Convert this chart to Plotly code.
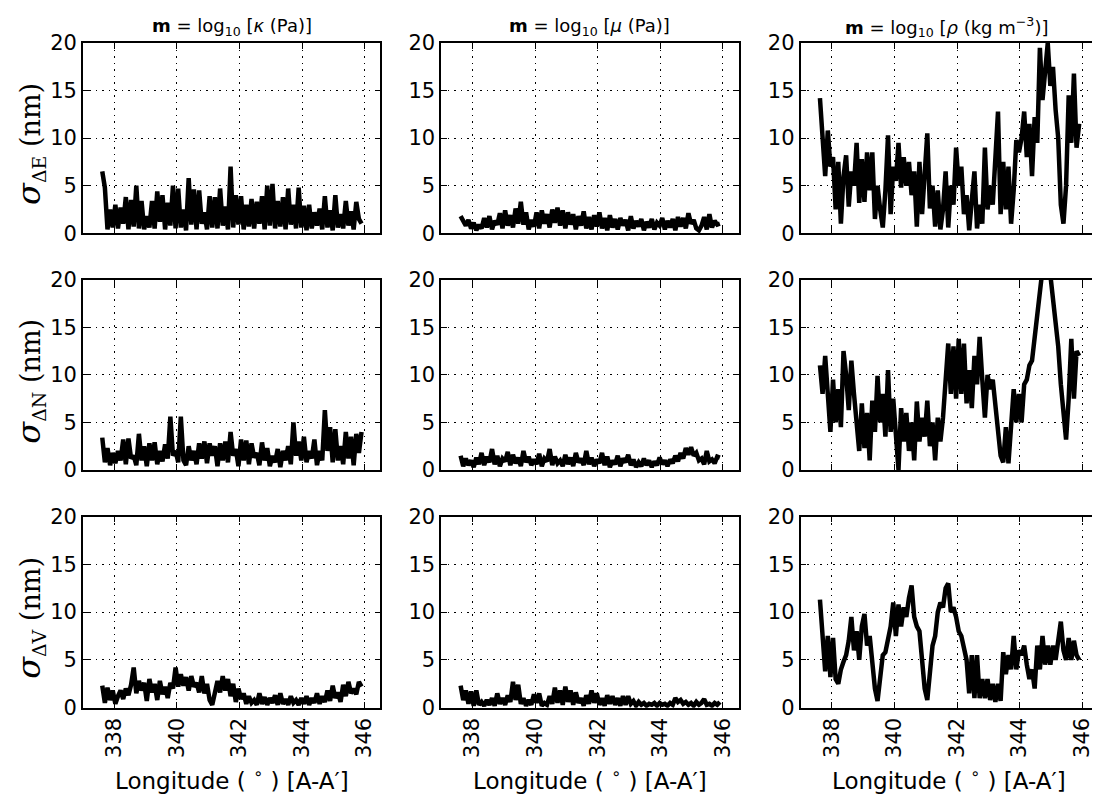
import numpy as np
import plotly.graph_objects as go

# ---------------- data ----------------
lon_start, lon_end, n_pts = 337.62, 345.90, 100
longitude = np.linspace(lon_start, lon_end, n_pts)

col_titles = ["<b>m</b> = log<sub>10</sub> [<i>κ</i> (Pa)]",
              "<b>m</b> = log<sub>10</sub> [<i>μ</i> (Pa)]",
              "<b>m</b> = log<sub>10</sub> [<i>ρ</i> (kg m<sup>−3</sup>)]"]
row_labels = ["ΔE", "ΔN", "ΔV"]
x_ticks = [338, 340, 342, 344, 346]
y_ticks = [0, 5, 10, 15, 20]

sigE_kappa = [6.5, 4.8, 0.4, 2.5, 0.6, 3.0, 0.5, 2.7, 1.0, 3.8,
              0.4, 3.5, 0.7, 5.0, 0.5, 3.4, 0.4, 1.8, 0.6, 3.4,
              0.5, 4.4, 1.2, 4.0, 0.4, 3.2, 0.8, 5.0, 0.5, 4.7,
              0.6, 2.5, 0.3, 5.8, 0.9, 4.6, 0.4, 4.5, 1.0, 2.2,
              0.4, 3.9, 0.6, 3.8, 0.5, 4.7, 0.8, 2.8, 0.4, 7.0,
              0.6, 4.0, 0.9, 3.9, 0.4, 3.0, 0.7, 3.6, 0.5, 3.3,
              1.0, 3.9, 0.4, 5.0, 0.8, 5.2, 0.5, 3.4, 0.7, 3.8,
              0.4, 4.7, 0.9, 3.0, 0.5, 4.8, 0.6, 2.9, 0.3, 3.0,
              0.5, 2.2, 0.8, 2.6, 0.4, 3.9, 0.6, 2.4, 0.3, 4.0,
              0.6, 2.0, 0.5, 3.4, 0.8, 2.3, 0.4, 3.3, 1.5, 1.0]
sigE_mu = [1.8, 1.2, 0.8, 1.4, 0.5, 1.1, 0.3, 0.9, 0.5, 1.6,
           0.6, 1.8, 0.4, 1.3, 0.9, 2.1, 0.5, 2.4, 0.8, 1.9,
           0.6, 2.6, 1.0, 3.3, 0.9, 2.2, 0.4, 1.4, 0.7, 2.2,
           0.5, 2.4, 1.0, 2.0, 0.6, 2.5, 1.1, 2.7, 0.8, 2.4,
           0.5, 2.2, 0.9, 2.0, 0.4, 1.8, 0.8, 2.3, 0.5, 1.7,
           0.4, 1.9, 0.7, 2.2, 0.5, 1.6, 0.3, 1.9, 0.6, 1.5,
           0.4, 1.6, 0.8, 1.4, 0.3, 1.8, 0.5, 1.3, 0.7, 1.5,
           0.3, 1.2, 0.6, 1.5, 0.4, 1.1, 0.8, 1.6, 0.4, 1.3,
           0.6, 1.5, 0.3, 1.7, 0.7, 1.6, 0.5, 2.1, 1.0, 1.4,
           0.5, 0.3, 0.8, 1.7, 0.4, 2.0, 0.6, 1.3, 0.9, 1.0]
sigE_rho = [14.2, 9.5, 6.0, 10.8, 7.0, 8.0, 2.5, 7.5, 1.0, 6.0,
            8.2, 2.8, 6.5, 5.0, 9.5, 3.2, 7.8, 3.3, 8.5, 4.5,
            8.5, 1.5, 5.0, 2.5, 0.6, 4.5, 10.3, 2.0, 7.0, 5.5,
            9.5, 4.8, 8.0, 5.0, 7.5, 4.0, 6.5, 0.7, 7.5, 2.0,
            6.0, 10.5, 2.6, 5.0, 0.7, 4.5, 0.4, 2.5, 6.5, 0.6,
            5.0, 3.0, 9.0, 5.0, 7.0, 2.0, 4.0, 0.3, 3.5, 6.5,
            0.5, 3.0, 1.0, 9.0, 2.5, 5.0, 3.0, 8.0, 12.8, 2.0,
            7.5, 2.5, 7.0, 1.0, 4.5, 9.8, 8.5, 10.0, 12.8, 8.0,
            11.5, 6.0, 12.2, 9.5, 19.5, 14.0, 17.0, 20.0, 15.5, 17.5,
            13.0, 10.0, 3.0, 1.0, 5.0, 14.5, 9.5, 16.8, 9.0, 11.5]

sigN_kappa = [3.4, 0.8, 2.3, 0.5, 1.8, 0.7, 2.0, 1.0, 3.2, 0.6,
              3.3, 1.2, 1.5, 0.5, 3.8, 1.0, 2.5, 0.4, 2.8, 1.0,
              2.9, 0.6, 2.0, 0.9, 2.7, 1.2, 5.6, 1.5, 2.0, 0.8,
              5.6, 1.0, 0.5, 2.5, 1.0, 2.0, 0.6, 2.8, 1.2, 3.0,
              0.7, 2.8, 1.5, 2.5, 0.4, 2.8, 1.0, 3.0, 0.8, 4.0,
              1.5, 2.2, 0.4, 3.2, 1.0, 3.1, 0.6, 2.8, 1.3, 1.8,
              0.5, 2.9, 1.0, 2.3, 0.4, 1.5, 0.8, 2.2, 0.3, 2.0,
              1.0, 2.5, 0.6, 5.0, 1.5, 3.0, 1.0, 3.5, 0.8, 2.0,
              1.2, 3.2, 0.5, 2.0, 1.0, 6.3, 2.0, 4.5, 0.8, 4.3,
              1.0, 2.5, 0.6, 4.0, 1.2, 3.5, 0.5, 3.8, 1.8, 4.0]
sigN_mu = [1.5, 0.4, 1.2, 0.5, 1.0, 0.3, 1.3, 0.6, 1.8, 0.5,
           1.4, 0.8, 2.2, 0.6, 1.5, 0.4, 1.2, 0.9, 1.9, 0.5,
           1.6, 0.7, 1.3, 0.4, 2.0, 0.8, 1.4, 0.5, 1.1, 0.6,
           1.7, 0.4, 1.2, 0.9, 2.2, 0.5, 1.4, 0.7, 1.0, 0.4,
           1.6, 0.6, 1.3, 0.4, 1.8, 0.8, 1.2, 0.5, 2.0, 0.6,
           1.3, 0.4, 1.1, 0.7, 1.8, 0.5, 1.4, 0.3, 1.0, 0.6,
           1.5, 0.4, 1.2, 0.8, 1.6, 0.5, 1.1, 0.3, 0.8, 0.4,
           1.2, 0.5, 1.0, 0.3, 0.9, 0.5, 1.3, 0.6, 1.0, 0.4,
           1.1, 0.7, 1.5, 0.9, 1.8, 1.2, 2.3, 1.6, 2.4, 1.5,
           1.8, 1.0, 1.2, 0.6, 2.0, 0.9, 1.1, 0.7, 1.4, 1.3]
sigN_rho = [11.0, 8.0, 12.0, 7.0, 4.0, 9.5, 5.0, 8.5, 4.5, 12.5,
            10.0, 6.3, 11.5, 8.0, 5.0, 2.0, 7.0, 2.3, 6.0, 1.0,
            7.3, 4.0, 9.9, 5.0, 8.0, 3.5, 10.5, 4.0, 7.5, 3.0,
            0.0, 6.5, 3.0, 6.0, 2.0, 5.0, 1.0, 7.2, 3.0, 5.5,
            3.5, 7.3, 2.5, 5.0, 1.0, 5.5, 3.0, 5.5, 9.0, 13.3,
            8.0, 13.0, 7.5, 13.8, 8.0, 13.3, 7.0, 10.5, 6.5, 12.0,
            9.0, 14.0, 9.5, 5.5, 10.0, 8.5, 9.5, 7.0, 5.0, 1.5,
            0.8, 4.5, 0.7, 5.5, 8.5, 5.0, 8.0, 5.0, 9.0, 9.5,
            11.0, 11.5, 14.0, 16.0, 19.0, 22.5, 23.5, 23.0, 20.5, 17.0,
            15.5, 13.0, 9.0, 6.0, 3.2, 7.5, 13.8, 7.5, 12.5, 12.0]

sigV_kappa = [2.3, 0.5, 2.1, 0.8, 1.8, 0.4, 1.2, 1.8, 0.9, 2.0,
              1.3, 2.4, 4.2, 1.5, 2.8, 1.8, 2.6, 0.7, 3.0, 1.6,
              2.5, 0.8, 2.8, 1.4, 2.2, 1.0, 2.6, 2.0, 4.2, 2.2,
              3.5, 2.3, 3.2, 1.8, 3.3, 2.2, 2.6, 1.6, 3.3, 1.5,
              2.5, 0.8, 0.3, 1.5, 2.8, 1.6, 3.3, 1.8, 3.0, 1.2,
              2.5, 0.6, 2.0, 0.9, 1.5, 0.4, 1.2, 0.5, 0.8, 0.3,
              1.5, 0.4, 1.1, 0.3, 1.0, 0.5, 1.3, 0.3, 1.5, 0.4,
              0.9, 0.3, 1.2, 0.5, 0.8, 0.3, 1.0, 0.4, 1.2, 0.3,
              1.0, 0.5, 1.5, 0.4, 1.2, 0.6, 1.8, 0.7, 2.3, 1.0,
              1.6, 0.6, 2.4, 1.2, 2.7, 1.5, 2.0, 1.4, 2.7, 2.2]
sigV_mu = [2.3, 0.8, 1.8, 0.4, 1.7, 0.2, 1.8, 0.3, 0.6, 0.2,
           0.8, 0.3, 1.0, 0.2, 1.5, 0.4, 1.0, 0.3, 1.3, 0.6,
           2.7, 0.8, 2.4, 0.4, 1.0, 0.2, 0.8, 0.3, 1.4, 0.5,
           1.5, 0.2, 0.5, 0.3, 1.2, 0.4, 2.1, 0.5, 1.8, 0.3,
           2.2, 0.6, 1.8, 0.3, 1.6, 0.5, 1.0, 0.2, 1.3, 0.4,
           1.8, 0.5, 1.5, 0.3, 1.0, 0.2, 1.3, 0.4, 1.2, 0.3,
           1.0, 0.2, 1.2, 0.3, 1.2, 0.4, 0.7, 0.2, 0.6, 0.3,
           0.5, 0.2, 0.4, 0.3, 0.5, 0.2, 0.5, 0.3, 0.4, 0.2,
           0.5, 0.3, 1.0, 0.6, 0.8, 0.4, 0.6, 0.3, 0.5, 0.2,
           0.6, 0.3, 0.5, 0.9, 0.3, 0.4, 0.2, 0.5, 0.3, 0.6]
sigV_rho = [11.3, 7.8, 3.8, 7.5, 3.2, 7.3, 3.0, 2.5, 4.0, 4.8,
            5.5, 7.0, 9.5, 6.0, 8.0, 5.0, 8.5, 9.8, 6.5, 7.5,
            5.0, 2.0, 0.7, 3.5, 5.5, 5.8, 7.0, 8.5, 11.0, 7.5,
            10.8, 8.5, 10.5, 9.5, 11.5, 12.8, 9.5, 8.5, 8.0, 5.0,
            2.0, 0.8, 3.5, 6.5, 7.5, 10.0, 11.0, 10.5, 12.5, 13.0,
            10.0, 10.5, 9.5, 8.0, 7.5, 6.0, 5.0, 1.5, 5.5, 1.0,
            5.5, 1.0, 3.0, 1.0, 3.0, 0.8, 2.5, 0.6, 2.5, 0.7,
            5.8, 3.5, 5.5, 4.0, 7.5, 4.0, 6.0, 5.5, 6.5, 4.5,
            3.0, 4.0, 2.0, 6.5, 4.0, 7.5, 4.5, 6.5, 4.5, 6.5,
            5.0, 7.0, 9.0, 6.0, 5.0, 7.3, 5.0, 7.0, 5.5, 5.0]

series = [[sigE_kappa, sigE_mu, sigE_rho],
          [sigN_kappa, sigN_mu, sigN_rho],
          [sigV_kappa, sigV_mu, sigV_rho]]

# ---------------- layout geometry ----------------
W, H = 1094, 807
col_px = [(83, 381), (442, 740), (802, 1094)]
row_px = [(32, 228), (276, 472), (520, 717)]
x_ranges = [[337, 346.5], [337, 346.5], [337, 346.31]]

fig = go.Figure()
layout = dict(width=W, height=H, margin=dict(l=0, r=0, t=0, b=0),
              paper_bgcolor="white", plot_bgcolor="white", showlegend=False)

tick_font = dict(family="DejaVu Sans", size=21, color="black")
grid_dash = "1.5px,5px"
annotations = []

for r in range(3):
    for c in range(3):
        k = r * 3 + c + 1
        xa = "xaxis" if k == 1 else f"xaxis{k}"
        ya = "yaxis" if k == 1 else f"yaxis{k}"
        xref = "x" if k == 1 else f"x{k}"
        yref = "y" if k == 1 else f"y{k}"
        fig.add_trace(go.Scatter(x=longitude, y=series[r][c], mode="lines",
                                 line=dict(color="black", width=4.5),
                                 xaxis=xref, yaxis=yref, hoverinfo="skip"))
        layout[xa] = dict(domain=[col_px[c][0] / W, col_px[c][1] / W],
                          anchor=yref, range=x_ranges[c],
                          tickmode="array", tickvals=x_ticks,
                          ticktext=[str(v) for v in x_ticks],
                          showticklabels=(r == 2), tickangle=-90,
                          ticklabeloverflow="allow",
                          tickfont=tick_font, ticks="inside", ticklen=6,
                          tickcolor="black", tickwidth=1,
                          showline=True, linecolor="black", linewidth=1.5,
                          mirror="ticks",
                          showgrid=True, gridcolor="black", griddash=grid_dash,
                          gridwidth=1, zeroline=False, fixedrange=True)
        layout[ya] = dict(domain=[1 - row_px[r][1] / H, 1 - row_px[r][0] / H],
                          anchor=xref, range=[0, 20],
                          tickmode="array", tickvals=y_ticks,
                          tickfont=tick_font, ticks="inside", ticklen=6,
                          tickcolor="black", tickwidth=1,
                          showline=True, linecolor="black", linewidth=1.5,
                          mirror=("ticks" if c < 2 else False),
                          showgrid=True, gridcolor="black", griddash=grid_dash,
                          gridwidth=1, zeroline=False, fixedrange=True)

# column titles
for c in range(3):
    annotations.append(dict(text=col_titles[c], x=(col_px[c][0] + col_px[c][1]) / 2 / W,
                            y=1 - 15 / H, xref="paper", yref="paper",
                            showarrow=False, xanchor="center", yanchor="middle",
                            font=dict(family="DejaVu Sans", size=18, color="black")))
# row labels
for r in range(3):
    annotations.append(dict(text=f"<span style='font-size:32px'><i>σ</i></span>"
                                 f"<sub>{row_labels[r]}</sub> (nm)",
                            x=30 / W, y=1 - ((row_px[r][0] + row_px[r][1]) / 2 + 6) / H,
                            xref="paper", yref="paper", textangle=-90,
                            showarrow=False, xanchor="center", yanchor="middle",
                            font=dict(family="DejaVu Serif", size=27, color="black")))
# x axis titles
for c in range(3):
    annotations.append(dict(text="Longitude ( <sup>∘</sup> ) [A-A′]",
                            x=(col_px[c][0] + col_px[c][1]) / 2 / W if c < 2 else (802 + 1100) / 2 / W,
                            y=1 - 790 / H, xref="paper", yref="paper",
                            showarrow=False, xanchor="center", yanchor="middle",
                            font=dict(family="DejaVu Sans", size=23, color="black")))

layout["annotations"] = annotations
fig.update_layout(**layout)
fig.write_html("out.html")
